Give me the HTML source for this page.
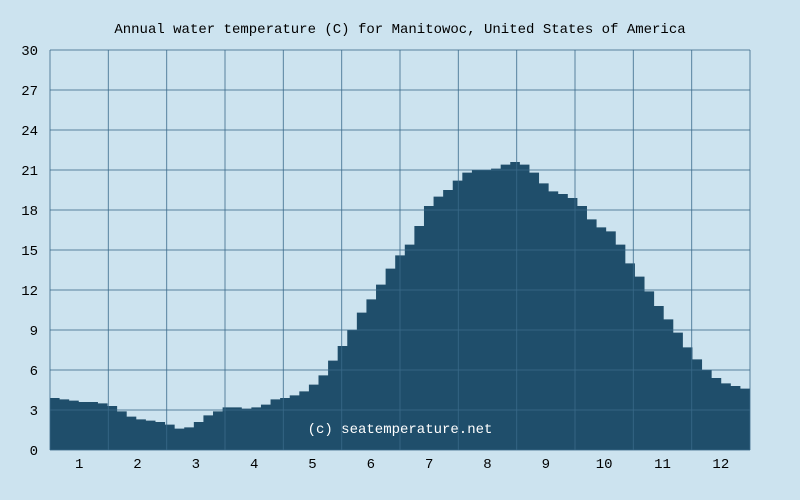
<!DOCTYPE html>
<html><head><meta charset="utf-8"><style>
html,body{margin:0;padding:0;background:#cce3ef;}
svg{display:block;font-family:"Liberation Mono",monospace;}
</style></head><body>
<svg id="chart" width="800" height="500">
<rect x="0" y="0" width="800" height="500" fill="#cce3ef"/>
<text x="400" y="33" text-anchor="middle" font-size="14" fill="#000">Annual water temperature (C) for Manitowoc, United States of America</text>
<g id="area"></g>
<g id="grid"></g>
<g id="labels"></g>
<text x="400" y="433" text-anchor="middle" font-size="14" fill="#ffffff">(c) seatemperature.net</text>
</svg>
<script>
const months = ["1","2","3","4","5","6","7","8","9","10","11","12"];
const yTicks = [0,3,6,9,12,15,18,21,24,27,30];
const temps = [3.9,3.8,3.7,3.6,3.6,3.5,3.3,2.9,2.5,2.3,2.2,2.1,1.9,1.6,1.7,2.1,2.6,2.9,3.2,3.2,3.1,3.2,3.4,3.8,3.9,4.1,4.4,4.9,5.6,6.7,7.8,9.0,10.3,11.3,12.4,13.6,14.6,15.4,16.8,18.3,19.0,19.5,20.2,20.8,21.0,21.0,21.1,21.4,21.6,21.4,20.8,20.0,19.4,19.2,18.9,18.3,17.3,16.7,16.4,15.4,14.0,13.0,11.9,10.8,9.8,8.8,7.7,6.8,6.0,5.4,5.0,4.8,4.6];
const X0=50,X1=750,Y0=450,Y1=50,YMAX=30;
const NS="http://www.w3.org/2000/svg";
function xs(i){return X0+(X1-X0)*i/temps.length;}
function ys(v){return Y0-(Y0-Y1)*v/YMAX;}
function xm(m){return X0+(X1-X0)*m/months.length;}
const area=document.getElementById('area'),grid=document.getElementById('grid'),labels=document.getElementById('labels');
let d="M"+X0+","+Y0;
temps.forEach((v,i)=>{d+=" L"+xs(i)+","+ys(v)+" L"+xs(i+1)+","+ys(v);});
d+=" L"+X1+","+Y0+" Z";
const p=document.createElementNS(NS,'path');
p.setAttribute('d',d);p.setAttribute('fill','#1f4e6b');


area.appendChild(p);
yTicks.forEach(t=>{
 const l=document.createElementNS(NS,'line');
 l.setAttribute('x1',X0);l.setAttribute('x2',X1);l.setAttribute('y1',ys(t));l.setAttribute('y2',ys(t));
 l.setAttribute('stroke','#3a6a8a');l.setAttribute('stroke-width','1');l.setAttribute('opacity','0.8');
 
 
 grid.appendChild(l);
 const tx=document.createElementNS(NS,'text');
 tx.setAttribute('x',38);tx.setAttribute('y',ys(t)+5);tx.setAttribute('text-anchor','end');tx.setAttribute('font-size','14');
 tx.textContent=t;
 
 
 labels.appendChild(tx);
});
for(let m=0;m<=months.length;m++){
 const l=document.createElementNS(NS,'line');
 l.setAttribute('x1',xm(m));l.setAttribute('x2',xm(m));l.setAttribute('y1',Y1);l.setAttribute('y2',Y0);
 l.setAttribute('stroke','#3a6a8a');l.setAttribute('stroke-width','1');l.setAttribute('opacity','0.8');
 
 
 grid.appendChild(l);
}
months.forEach((m,i)=>{
 const tx=document.createElementNS(NS,'text');
 tx.setAttribute('x',(xm(i)+xm(i+1))/2);tx.setAttribute('y',468);tx.setAttribute('text-anchor','middle');tx.setAttribute('font-size','14');
 tx.textContent=m;
 
 
 labels.appendChild(tx);
});
</script>
</body></html>
